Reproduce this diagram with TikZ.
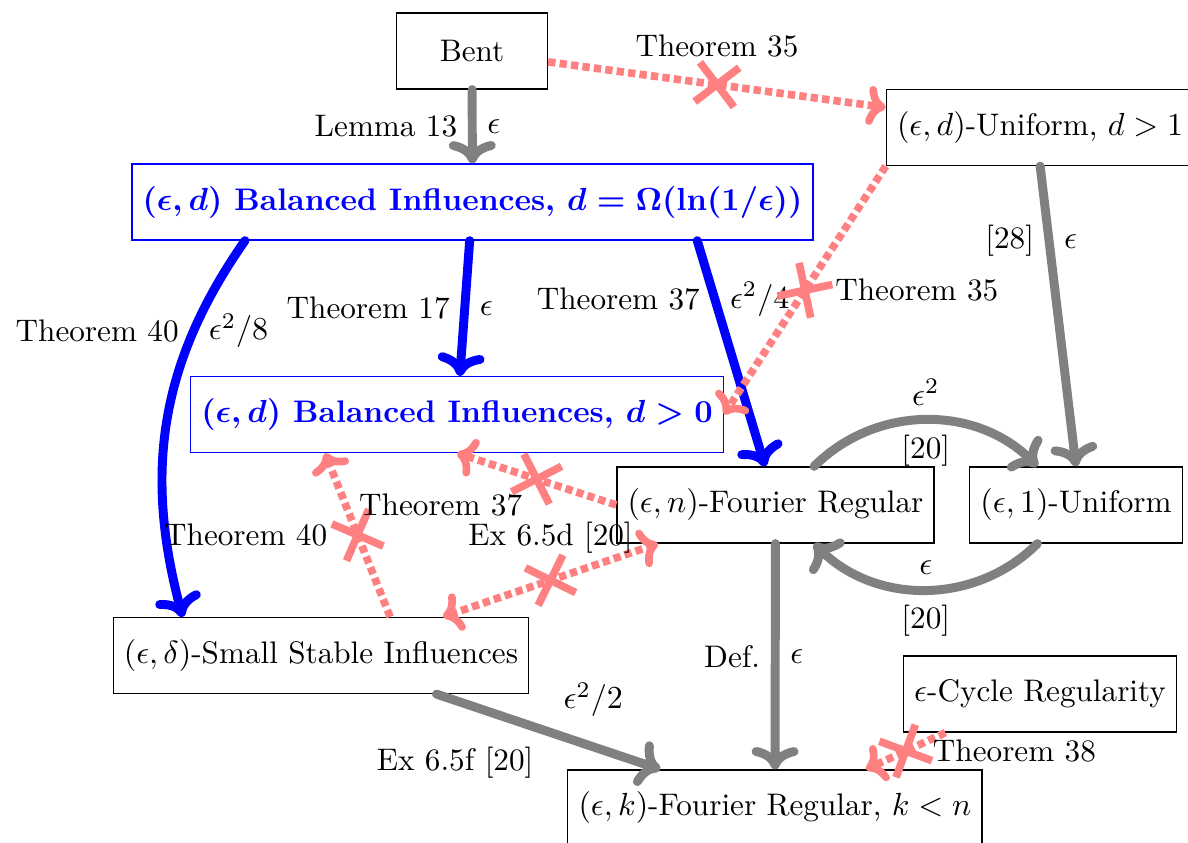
\documentclass[tikz,border=0pt]{standalone}
\usepackage{amsmath}
\usetikzlibrary{shapes.misc,arrows.meta}
\begin{document}
\begin{tikzpicture}[font=\fontsize{9.75}{12}\selectfont,
	box/.style={draw, minimum height=0.835cm},
	bluebox/.style={box, draw=blue, text=blue, font=\fontsize{9.75}{12}\selectfont\bfseries\boldmath},
	imp/.style={draw=gray, line width=2.8pt, line cap=round, -{To[round,scale=0.9]}},
	blueimp/.style={imp, draw=blue},
	noimp/.style={draw=red!50, line width=2.4pt, dash pattern=on 2.3pt off 1.3pt, -{To[round,scale=0.85]}},
	xmark/.style={cross out, draw=red!50, solid, line width=2.4pt, minimum size=10pt, inner sep=0pt, sloped}]
	\useasboundingbox (0,0) rectangle (13.055,-9.253);
	% Properties
	\node[box, minimum width=1.66cm] (bent) at (5.187,-0.560) {Bent};
	\node[box] (unifd) at (11.43,-1.401) {$(\epsilon,d)$-Uniform, $d>1$};
	\node[bluebox] (bal1) at (5.192,-2.220) {$(\epsilon,d)$ Balanced Influences, $d=\Omega(\ln(1/\epsilon))$};
	\node[bluebox] (bal0) at (5.022,-4.555) {$(\epsilon,d)$ Balanced Influences, $d>0$};
	\node[box] (fourn) at (8.522,-5.549) {$(\epsilon,n)$-Fourier Regular};
	\node[box] (unif1) at (11.824,-5.549) {$(\epsilon,1)$-Uniform};
	\node[box] (small) at (3.527,-7.203) {$(\epsilon,\delta)$-Small Stable Influences};
	\node[box] (cycle) at (11.429,-7.626) {$\epsilon$-Cycle Regularity};
	\node[box] (fourk) at (8.516,-8.879) {$(\epsilon,k)$-Fourier Regular, $k<n$};
	% Implications
	\draw[imp] (bent) -- node[left]{Lemma 13} node[right]{$\epsilon$} (bal1);
	\draw[blueimp] (bal1) -- node[left]{Theorem 17} node[right]{$\epsilon$} (bal0);
	\draw[blueimp] ([xshift=2.47cm]bal1.south) -- node[pos=0.26,left]{Theorem 37} node[pos=0.26,right]{$\epsilon^2/4$} ([xshift=-0.115cm]fourn.north);
	\draw[blueimp] ([xshift=-2.5cm]bal1.south) to[out=235,in=105] node[pos=0.25,left]{Theorem 40} node[pos=0.25,right]{$\epsilon^2/8$} ([xshift=-1.52cm]small.north);
	\draw[imp] (unifd.south) -- node[pos=0.25,left]{[28]} node[pos=0.25,right]{$\epsilon$} (unif1.north);
	\draw[imp] (fourn.45) to[bend left=45] node[above]{$\epsilon^2$} node[below]{[20]} (unif1.135);
	\draw[imp] (unif1.225) to[bend left=45] node[above]{$\epsilon$} node[below]{[20]} (fourn.315);
	\draw[imp] (fourn) -- node[left]{Def.} node[right]{$\epsilon$} (fourk);
	\draw[imp] ([xshift=1.27cm]small.south) -- node[above right]{$\epsilon^2/2$} node[below left]{Ex 6.5f [20]} ([xshift=-1.26cm]fourk.north);
	% Non-implications
	\draw[noimp] ([yshift=-0.12cm]bent.east) -- node[xmark]{} node[above=4pt]{Theorem 35} ([yshift=0.22cm]unifd.west);
	\draw[noimp] (unifd.south west) -- node[xmark]{} node[right=5pt]{Theorem 35} (bal0.east);
	\draw[noimp] ([xshift=0.76cm]small.north) -- node[xmark]{} node[left=5pt]{Theorem 40} ([xshift=-1.45cm]bal0.south);
	\draw[noimp] (fourn.west) -- node[xmark]{} node[below left]{Theorem 37} (bal0.south);
	\draw[noimp, {To[round,scale=0.85]}-{To[round,scale=0.85]}] ([xshift=1.34cm]small.north) -- node[xmark]{} node[above=4pt]{Ex 6.5d [20]} ([xshift=-1.29cm]fourn.south);
	\draw[noimp] ([xshift=-1.04cm]cycle.south) -- node[xmark]{} node[right=4pt]{Theorem 38} ([xshift=1cm]fourk.north);
\end{tikzpicture}
\end{document}
